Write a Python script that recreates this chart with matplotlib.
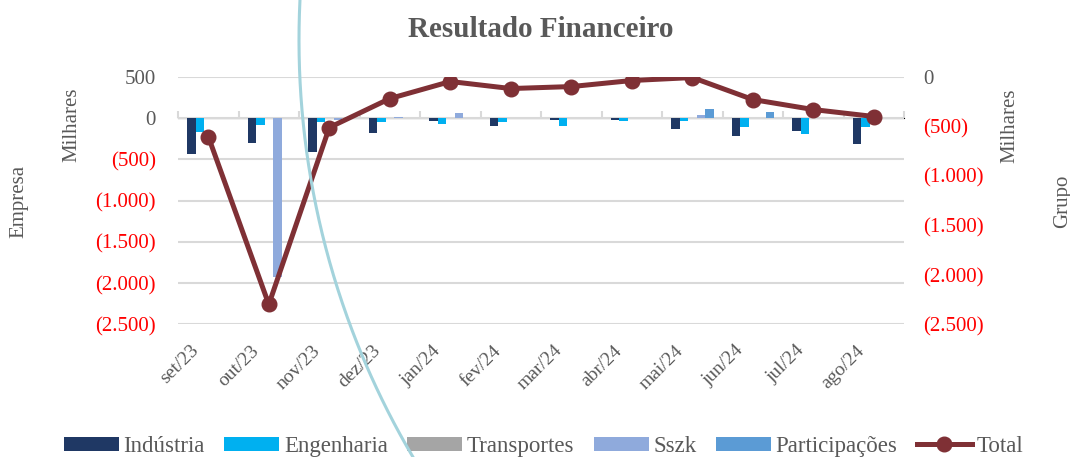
import numpy as np
import matplotlib
matplotlib.use("Agg")
import matplotlib.pyplot as plt
from matplotlib.lines import Line2D
from matplotlib.transforms import ScaledTranslation

plt.rcParams["font.family"] = ["Liberation Serif", "DejaVu Serif"]

months = ["set/23", "out/23", "nov/23", "dez/23", "jan/24", "fev/24",
          "mar/24", "abr/24", "mai/24", "jun/24", "jul/24", "ago/24"]

# Empresa (left axis, thousands)
industria = [-437, -307, -418, -183, -35, -97, -20, -20, -130, -218, -161, -315]
engenharia = [-170, -85, -55, -50, -70, -45, -93, -40, -40, -113, -194, -105]
transportes = [-3, -2, -3, -2, -2, -2, -2, -2, -2, -2, -2, -2]
sszk = [-5, -1930, -30, 10, 57, -5, -3, -5, 35, -5, -3, -5]
participacoes = [0, 0, 0, 0, 0, 0, 0, 0, 105, 73, 0, 0]
# Grupo (right axis, thousands)
total = [-605, -2298, -514, -222, -50, -121, -101, -40, -10, -232, -333, -403]

series = [
    ("Indústria", industria, "#1F3864"),
    ("Engenharia", engenharia, "#00B0F0"),
    ("Transportes", transportes, "#A5A5A5"),
    ("Sszk", sszk, "#8FAADC"),
    ("Participações", participacoes, "#5B9BD5"),
]

GRAY = "#595959"
GRID = "#D9D9D9"
RED = "#FF0000"


def fmt(v):
    s = "{:,.0f}".format(abs(v)).replace(",", ".")
    return "(%s)" % s if v < 0 else s


def style_ticks(axis, ticks):
    axis.set_yticks(ticks)
    axis.set_yticklabels([fmt(t) for t in ticks])
    for lab, t in zip(axis.get_yticklabels(), ticks):
        lab.set_color(RED if t < 0 else GRAY)


fig = plt.figure(figsize=(10.7, 4.57), dpi=100)
ax = fig.add_axes([0.1664, 0.29, 0.6786, 0.5425])

x = np.arange(len(months))
w = 0.14
for i, (name, vals, col) in enumerate(series):
    ax.bar(x + (i - 2) * w, vals, w, color=col, label=name, zorder=2)

ymin, ymax = -2500, 500
ax.set_ylim(ymin, ymax)
ax.set_xlim(-0.5, len(months) - 0.5)
style_ticks(ax, list(range(-2500, 501, 500)))
ax.grid(axis="y", color=GRID, linewidth=1.5, zorder=0)
ax.set_axisbelow(True)
for s in ax.spines.values():
    s.set_visible(False)
ax.tick_params(axis="y", length=0, pad=16, labelsize=15)
ax.set_xticks(x)
ax.set_xticklabels(months, rotation=45, ha="right", va="center",
                   rotation_mode="anchor", color=GRAY, fontsize=14)
ax.tick_params(axis="x", length=0, pad=17)
shift = ScaledTranslation(-0.12, 0, fig.dpi_scale_trans)
for lab in ax.get_xticklabels():
    lab.set_transform(lab.get_transform() + shift)

# category axis drawn at zero
frac = (0 - ymin) / (ymax - ymin)
sec = ax.secondary_xaxis(frac)
sec.spines["bottom"].set_color(GRID)
sec.spines["bottom"].set_linewidth(1.5)
sec.set_xticks(np.arange(-0.5, len(months), 1.0))
sec.set_xticklabels([])
sec.tick_params(axis="x", length=5, width=1.5, color=GRID, direction="out")

ax2 = ax.twinx()
ax2.plot(x, total, color="#7F3035", linewidth=3.6, marker="o",
         markersize=10.5, label="Total", zorder=5)
ax2.set_ylim(-2500, 0)
style_ticks(ax2, list(range(-2500, 1, 500)))
for s in ax2.spines.values():
    s.set_visible(False)
ax2.tick_params(axis="y", length=0, pad=14, labelsize=15)

fig.text(0.505, 0.935, "Resultado Financeiro", ha="center", va="center",
         fontsize=21, fontweight="bold", color=GRAY)
fig.text(0.067, 0.726, "Milhares", rotation=90, ha="center", va="center",
         fontsize=15, color=GRAY)
fig.text(0.018, 0.56, "Empresa", rotation=90, ha="center", va="center",
         fontsize=15, color=GRAY)
fig.text(0.944, 0.724, "Milhares", rotation=90, ha="center", va="center",
         fontsize=15, color=GRAY)
fig.text(0.993, 0.56, "Grupo", rotation=90, ha="center", va="center",
         fontsize=15, color=GRAY)

h1, l1 = ax.get_legend_handles_labels()
h2, l2 = ax2.get_legend_handles_labels()
leg = fig.legend(h1 + h2, l1 + l2, loc="lower center", ncol=6,
                 bbox_to_anchor=(0.508, -0.045), frameon=False, fontsize=16.5,
                 handlelength=2.4, handleheight=0.55, handletextpad=0.2,
                 columnspacing=0.85)
for t in leg.get_texts():
    t.set_color(GRAY)

# decorative arc crossing the slide
W, H = 1070, 457
yy = np.linspace(0, H, 200)
xx = 1119 - np.sqrt(820 ** 2 - (yy - 40) ** 2)
fig.add_artist(Line2D(xx / W, 1 - yy / H, transform=fig.transFigure,
                      color="#A3D3DC", linewidth=2.2, zorder=20))

fig.savefig("out.png", dpi=100, facecolor="white")
